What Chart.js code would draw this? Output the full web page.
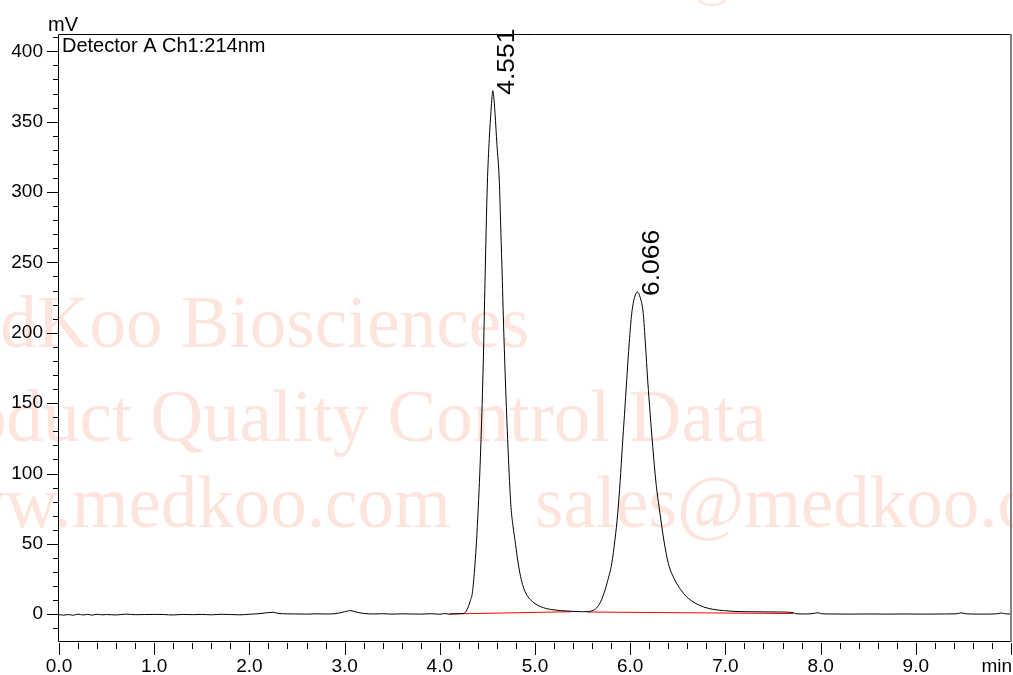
<!DOCTYPE html>
<html>
<head>
<meta charset="utf-8">
<script src="https://cdn.jsdelivr.net/npm/chart.js@4.4.1/dist/chart.umd.min.js"></script>
<style>
  html, body { margin: 0; padding: 0; background: #ffffff; }
  #wrap { width: 1013px; height: 675px; position: relative; }
</style>
</head>
<body>
<div id="wrap"><canvas id="c"></canvas></div>
<script>
// ---- data ----
const timeMin = [
  0.00,0.05,0.10,0.15,0.20,0.25,0.30,0.35,0.40,0.45,0.50,0.60,0.70,0.80,0.90,1.00,
  1.10,1.20,1.30,1.40,1.50,1.60,1.70,1.80,1.90,2.00,2.10,2.20,2.25,2.30,2.40,2.50,
  2.60,2.70,2.80,2.90,3.00,3.06,3.12,3.20,3.30,3.40,3.50,3.60,3.70,3.80,3.90,4.00,
  4.05,4.10,4.15,4.20,
  4.247,4.275,4.299,4.32,4.341,4.362,4.384,4.404,4.42,4.433,4.457,4.475,4.499,4.52,
  4.538,4.548,4.556,4.566,4.580,4.60,4.625,4.64,4.657,4.667,4.678,4.695,4.713,4.73,
  4.748,4.77,4.790,4.815,4.842,4.87,4.905,4.95,5.00,5.06,5.123,5.20,5.27,5.333,5.42,5.50,5.56,
  5.612,5.66,5.711,5.76,5.806,5.84,5.869,5.895,5.917,5.94,5.963,5.99,6.016,6.045,6.075,
  6.105,6.137,6.16,6.184,6.21,6.237,6.27,6.313,6.355,6.401,6.47,6.53,6.594,6.68,6.77,
  6.87,6.98,7.10,7.25,7.40,7.55,7.70,7.75,7.85,7.93,7.97,8.01,8.10,8.30,
  8.50,8.70,8.90,9.10,9.30,9.42,9.48,9.53,9.70,9.85,9.90,9.94,10.00
];
const signalMv = [
  -0.3,-0.6,-0.2,-0.7,0.1,-0.5,-0.1,-0.6,0.0,-0.4,-0.2,-0.5,0.1,-0.3,-0.2,-0.1,
  -0.2,-0.5,-0.1,-0.3,-0.1,-0.4,0.0,-0.2,-0.4,0.0,0.4,1.2,1.4,0.6,0.3,0.2,
  0.1,0.3,0.2,0.4,1.8,2.6,1.6,0.6,0.2,0.4,0.1,0.3,0.2,0.1,0.4,0.0,
  0.5,0.1,0.3,0.4,
  0.6,2.0,5.2,9.5,14.7,29,50,76,100,124,180,237,305,338,
  358,367,372,368,356,334,308,275,237,212,188,155,124,98,
  76,62,52.6,40,29,21,14.7,10.5,7.6,5.4,4.0,3.1,2.6,2.3,2.0,1.8,1.9,
  2.8,5.5,12.3,23,36,53,71.6,95,119,142,166,193,213.7,225,229,
  225,213.7,192,166,142,119,94,71.6,52,36,24.2,17.5,12.3,8,5.2,
  3.5,2.6,2.0,1.8,1.7,1.6,1.3,0.3,0.2,0.6,1.1,0.4,0.2,0.1,
  0.2,0.1,0.2,0.1,0.2,0.3,1.0,0.3,0.1,0.3,0.9,0.3,0.2
];
// integration baselines (red)
const baseTime = [4.10, 5.38, null, 5.55, 7.71];
const baseMv   = [0.2, 1.8, null, 1.6, 0.5];
// peak annotations
const peakTimes  = [4.556, 6.075];
const peakLabels = ['4.551', '6.066'];
// axis ticks
const xMajorTicks = [0,1,2,3,4,5,6,7,8,9,10];
const yMajorTicks = [0,50,100,150,200,250,300,350,400];

const FONT = '"Liberation Sans", Arial, sans-serif';
Chart.defaults.font.family = FONT;
Chart.defaults.color = '#000';

const traceData = timeMin.map((t, i) => ({ x: t, y: signalMv[i] }));
const baseData = baseTime.map((t, i) => (t === null ? { x: NaN, y: null } : { x: t, y: baseMv[i] }));

const WM = 'rgb(253,229,221)';
const watermark = {
  id: 'watermark',
  beforeDraw(chart) {
    const ctx = chart.ctx;
    ctx.save();
    ctx.fillStyle = WM;
    ctx.font = '73px "Liberation Serif", "Times New Roman", serif';
    ctx.textBaseline = 'alphabetic';
    ctx.textAlign = 'left';
    ctx.fillText('MedKoo Biosciences', -97, 347);
    ctx.fillText('Product Quality Control Data', -95, 441);
    ctx.fillText('www.medkoo.com', -100, 527);
    ctx.fillText('sales@medkoo.com', 535, 527);
    ctx.strokeStyle = WM;
    ctx.lineWidth = 2;
    ctx.beginPath();
    ctx.arc(712, -16, 21, 0, Math.PI);
    ctx.stroke();
    ctx.restore();
  }
};

const extras = {
  id: 'extras',
  afterDraw(chart) {
    const ctx = chart.ctx;
    const a = chart.chartArea;
    const xs = chart.scales.x, ys = chart.scales.y;
    ctx.save();
    // frame
    ctx.lineWidth = 1;
    ctx.strokeStyle = '#000';
    ctx.beginPath();
    ctx.moveTo(a.left - 0.5, a.bottom + 0.5);
    ctx.lineTo(a.left - 0.5, a.top + 0.5);
    ctx.lineTo(a.right, a.top + 0.5);
    ctx.moveTo(a.left - 0.5, a.bottom + 0.5);
    ctx.lineTo(a.right, a.bottom + 0.5);
    ctx.stroke();
    ctx.strokeStyle = '#808080';
    ctx.lineWidth = 2;
    ctx.beginPath();
    ctx.moveTo(a.right, a.top);
    ctx.lineTo(a.right, a.bottom + 1);
    ctx.stroke();
    // y ticks (major every 50, minor every 10)
    ctx.strokeStyle = '#000';
    ctx.lineWidth = 1;
    ctx.beginPath();
    for (let v = -10; v <= 410; v += 10) {
      const py = Math.round(ys.getPixelForValue(v)) + 0.5;
      const len = (v % 50 === 0) ? 11 : 5;
      ctx.moveTo(a.left - 1 - len, py);
      ctx.lineTo(a.left - 1, py);
    }
    // x ticks (major every 1, minor every 0.2)
    for (let k = 0; k <= 50; k++) {
      const t = k / 5;
      const px = Math.round(xs.getPixelForValue(t)) + 0.5;
      const len = (k % 5 === 0) ? 12 : 6;
      ctx.moveTo(px, a.bottom + 2);
      ctx.lineTo(px, a.bottom + 2 + len);
    }
    ctx.stroke();
    // texts
    ctx.fillStyle = '#000';
    ctx.font = '20px ' + FONT;
    ctx.textAlign = 'left';
    ctx.textBaseline = 'alphabetic';
    ctx.fillText('mV', 48, 31);
    ctx.fillText('Detector A Ch1:214nm', a.left + 3, 52);
    ctx.font = '19px ' + FONT;
    ctx.textAlign = 'right';
    ctx.fillText('min', 1012, 672);
    ctx.restore();
  },
  afterDatasetsDraw(chart) {
    const ctx = chart.ctx;
    const xs = chart.scales.x, ys = chart.scales.y;
    ctx.save();
    ctx.fillStyle = '#000';
    ctx.font = '24px ' + FONT;
    ctx.textAlign = 'left';
    ctx.textBaseline = 'middle';
    peakTimes.forEach((t, i) => {
      let best = -Infinity;
      timeMin.forEach((tt, j) => { if (Math.abs(tt - t) < 0.05 && signalMv[j] > best) best = signalMv[j]; });
      const px = xs.getPixelForValue(t);
      const py = ys.getPixelForValue(best);
      ctx.save();
      ctx.translate(px + 15, py + 4);
      ctx.rotate(-Math.PI / 2);
      ctx.scale(1.1, 1);
      ctx.fillText(peakLabels[i], 0, 0);
      ctx.restore();
    });
    ctx.restore();
  }
};

new Chart(document.getElementById('c'), {
  type: 'line',
  data: {
    datasets: [
      {
        label: 'Detector A',
        data: traceData,
        borderColor: '#000',
        borderWidth: 1,
        pointRadius: 0,
        cubicInterpolationMode: 'monotone',
        fill: false,
        order: 1
      },
      {
        label: 'Baseline',
        data: baseData,
        borderColor: '#ff0000',
        borderWidth: 1,
        pointRadius: 0,
        spanGaps: false,
        fill: false,
        order: 2
      }
    ]
  },
  options: {
    responsive: true,
    maintainAspectRatio: false,
    animation: false,
    parsing: true,
    layout: { padding: { left: 0, right: 2, top: 34, bottom: 0 } },
    plugins: { legend: { display: false }, tooltip: { enabled: false }, title: { display: false } },
    scales: {
      x: {
        type: 'linear',
        min: 0,
        max: 10,
        grid: { display: false, drawTicks: false },
        border: { display: false },
        afterBuildTicks(scale) { scale.ticks = xMajorTicks.map(v => ({ value: v })); },
        ticks: {
          font: { size: 19 },
          color: '#000',
          padding: 14,
          maxRotation: 0,
          autoSkip: false,
          callback: (v) => (v === 10 ? '' : Number(v).toFixed(1))
        },
        afterFit(scale) {
          scale.height = 34;
          scale.paddingLeft = 0; scale.paddingRight = 0;
          scale.paddingTop = 0; scale.paddingBottom = 0;
        }
      },
      y: {
        type: 'linear',
        min: -19,
        max: 412.3,
        grid: { display: false, drawTicks: false },
        border: { display: false },
        afterBuildTicks(scale) { scale.ticks = yMajorTicks.map(v => ({ value: v })); },
        ticks: {
          font: { size: 19 },
          color: '#000',
          padding: 16,
          autoSkip: false,
          callback: (v) => String(v)
        },
        afterFit(scale) {
          scale.width = 59;
          scale.paddingLeft = 0; scale.paddingRight = 0;
          scale.paddingTop = 0; scale.paddingBottom = 0;
        }
      }
    }
  },
  plugins: [watermark, extras]
});
</script>
</body>
</html>
